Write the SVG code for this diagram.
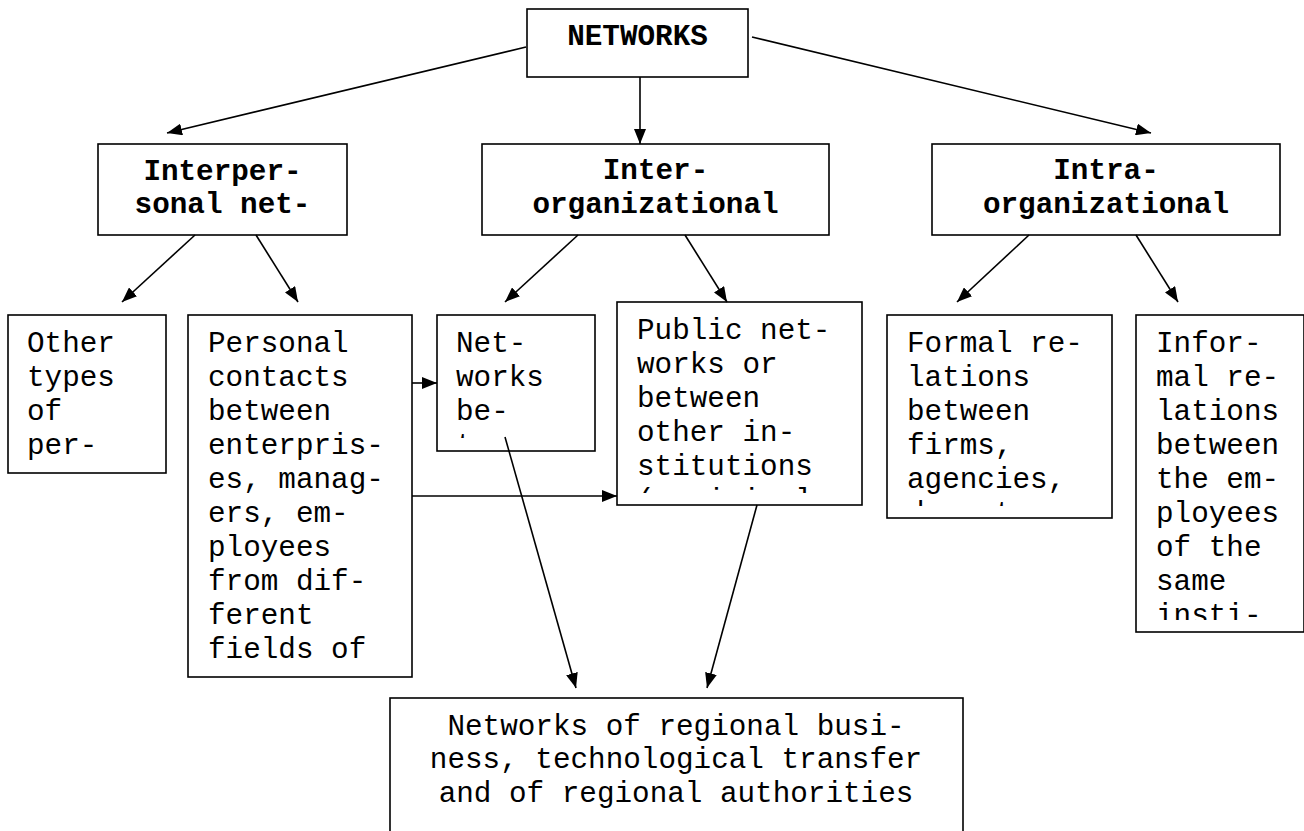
<svg xmlns="http://www.w3.org/2000/svg" width="1304" height="831" viewBox="0 0 1304 831">
<style>
rect.box{fill:#fff;stroke:#000;stroke-width:1.6}
text{font-family:"Liberation Mono","Courier New",monospace;font-size:29.3px;fill:#000}
text.b{font-weight:bold;text-anchor:middle}
text.c{text-anchor:middle}
.conn line{stroke:#000;stroke-width:1.6;fill:none;marker-end:url(#ah)}
</style>
<defs>
<marker id="ah" markerUnits="userSpaceOnUse" markerWidth="16" markerHeight="12" refX="15" refY="6" orient="auto">
<path d="M0,0 L15,6 L0,12 z" fill="#000"/>
</marker>
<clipPath id="cNet"><rect x="437" y="315" width="158" height="123"/></clipPath>
<clipPath id="cPub"><rect x="617" y="302" width="245" height="191"/></clipPath>
<clipPath id="cFor"><rect x="887" y="315" width="225" height="191"/></clipPath>
<clipPath id="cInf"><rect x="1136" y="315" width="168" height="305"/></clipPath>
</defs>
<rect width="1304" height="831" fill="#fff"/>

<g id="networks">
<rect class="box" x="527" y="9" width="221" height="68"/>
<text class="b" x="637.5" y="45">NETWORKS</text>
</g>

<g id="interpersonal">
<rect class="box" x="98" y="144" width="249" height="91"/>
<text class="b" x="222.5" y="180">Interper-</text>
<text class="b" x="222.5" y="213">sonal net-</text>
</g>

<g id="interorg">
<rect class="box" x="482" y="144" width="347" height="91"/>
<text class="b" x="655.5" y="179">Inter-</text>
<text class="b" x="655.5" y="213">organizational</text>
</g>

<g id="intraorg">
<rect class="box" x="932" y="144" width="348" height="91"/>
<text class="b" x="1106" y="179">Intra-</text>
<text class="b" x="1106" y="213">organizational</text>
</g>

<g id="other">
<rect class="box" x="8" y="315" width="158" height="158"/>
<text x="27" y="352">Other</text>
<text x="27" y="386">types</text>
<text x="27" y="420">of</text>
<text x="27" y="454">per-</text>
</g>

<g id="personal">
<rect class="box" x="188" y="315" width="224" height="362"/>
<text x="208" y="352">Personal</text>
<text x="208" y="386">contacts</text>
<text x="208" y="420">between</text>
<text x="208" y="454">enterpris-</text>
<text x="208" y="488">es, manag-</text>
<text x="208" y="522">ers, em-</text>
<text x="208" y="556">ployees</text>
<text x="208" y="590">from dif-</text>
<text x="208" y="624">ferent</text>
<text x="208" y="658">fields of</text>
</g>

<g id="netbetween">
<rect class="box" x="437" y="315" width="158" height="136"/>
<g clip-path="url(#cNet)">
<text x="456" y="352">Net-</text>
<text x="456" y="386">works</text>
<text x="456" y="420">be-</text>
<text x="456" y="454">tween</text>
</g>
</g>

<g id="public">
<rect class="box" x="617" y="302" width="245" height="203"/>
<g clip-path="url(#cPub)">
<text x="637" y="339">Public net-</text>
<text x="637" y="373">works or</text>
<text x="637" y="407">between</text>
<text x="637" y="441">other in-</text>
<text x="637" y="475">stitutions</text>
<text x="637" y="509">(municipal</text>
</g>
</g>

<g id="formal">
<rect class="box" x="887" y="315" width="225" height="203"/>
<g clip-path="url(#cFor)">
<text x="907" y="352">Formal re-</text>
<text x="907" y="386">lations</text>
<text x="907" y="420">between</text>
<text x="907" y="454">firms,</text>
<text x="907" y="488">agencies,</text>
<text x="907" y="522">depart-</text>
</g>
</g>

<g id="informal">
<rect class="box" x="1136" y="315" width="168" height="317"/>
<g clip-path="url(#cInf)">
<text x="1156" y="352">Infor-</text>
<text x="1156" y="386">mal re-</text>
<text x="1156" y="420">lations</text>
<text x="1156" y="454">between</text>
<text x="1156" y="488">the em-</text>
<text x="1156" y="522">ployees</text>
<text x="1156" y="556">of the</text>
<text x="1156" y="590">same</text>
<text x="1156" y="624">insti-</text>
</g>
</g>

<g id="regional">
<rect class="box" x="390" y="698" width="573" height="150"/>
<text class="c" x="676" y="735">Networks of regional busi-</text>
<text class="c" x="676" y="768">ness, technological transfer</text>
<text class="c" x="676" y="802">and of regional authorities</text>
</g>

<g id="connectors" class="conn">
<line x1="526" y1="47" x2="167" y2="133"/>
<line x1="640" y1="77" x2="640" y2="144"/>
<line x1="752" y1="37" x2="1151" y2="133"/>
<line x1="195" y1="235" x2="122" y2="302"/>
<line x1="256" y1="235" x2="298" y2="302"/>
<line x1="578" y1="235" x2="505" y2="302"/>
<line x1="685" y1="235" x2="727" y2="302"/>
<line x1="1029" y1="235" x2="957" y2="302"/>
<line x1="1136" y1="235" x2="1178" y2="302"/>
<line x1="412" y1="383" x2="437" y2="383"/>
<line x1="412" y1="496" x2="617" y2="496"/>
<line x1="505" y1="437" x2="576" y2="688"/>
<line x1="757" y1="505" x2="707" y2="688"/>
</g>
</svg>
